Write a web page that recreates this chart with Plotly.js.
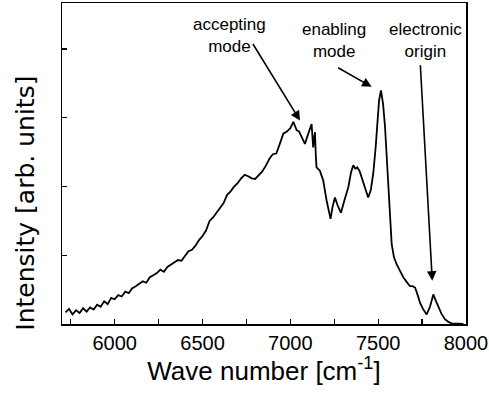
<!DOCTYPE html>
<html>
<head>
<meta charset="utf-8">
<script src="https://cdn.plot.ly/plotly-3.0.1.min.js"></script>
<style>html,body{margin:0;padding:0;background:#fff;}#chart{width:489px;height:395px;}</style>
</head>
<body>
<div id="chart"></div>
<script>
const waveNumber = [5720,5740,5760,5780,5800,5820,5840,5860,5880,5900,5920,5940,5960,5980,6000,6020,6040,6060,6080,6100,6120,6140,6160,6180,6200,6220,6240,6260,6280,6300,6320,6340,6360,6380,6400,6420,6440,6460,6480,6500,6520,6540,6560,6580,6600,6620,6640,6660,6680,6700,6720,6740,6760,6780,6800,6820,6840,6860,6880,6900,6920,6940,6960,6980,7000,7017,7036,7050,7064,7083,7102,7121,7130,7135,7140,7145,7149,7168,7187,7206,7218,7229,7240,7254,7270,7288,7310,7330,7345,7358,7370,7381,7395,7406,7425,7443,7458,7472,7485,7495,7505,7516,7528,7539,7550,7558,7568,7577,7590,7605,7625,7643,7660,7681,7695,7710,7725,7738,7755,7776,7795,7814,7828,7842,7860,7880,7900,7918,7950,7985];
const intensity = [0.17,0.22,0.14,0.20,0.16,0.23,0.18,0.24,0.21,0.28,0.25,0.33,0.29,0.38,0.36,0.42,0.40,0.47,0.45,0.52,0.55,0.58,0.62,0.60,0.68,0.71,0.74,0.79,0.76,0.83,0.86,0.90,0.93,0.92,0.99,1.06,1.08,1.14,1.22,1.28,1.36,1.50,1.55,1.62,1.70,1.76,1.88,1.93,2.00,2.05,2.12,2.17,2.15,2.12,2.11,2.16,2.22,2.30,2.40,2.47,2.48,2.62,2.77,2.80,2.85,2.94,2.82,2.80,2.72,2.62,2.77,2.91,2.57,2.70,2.79,2.45,2.28,2.23,2.09,1.80,1.65,1.53,1.70,1.84,1.72,1.62,1.82,1.99,2.20,2.31,2.26,2.28,2.22,2.14,1.98,1.84,1.95,2.19,2.55,2.92,3.25,3.40,3.20,2.87,2.40,1.99,1.55,1.16,0.97,0.87,0.77,0.68,0.62,0.55,0.55,0.53,0.42,0.31,0.22,0.14,0.25,0.43,0.34,0.26,0.15,0.07,0.03,0.01,0.0,0.0];

const labels = ["accepting<br>mode", "enabling<br>mode", "electronic<br>origin"];
const labelX = [6656, 7249, 7772];
const labelY = [4.19, 4.12, 4.13];
const arrowX = [7055, 7463, 7808];
const arrowY = [2.96, 3.45, 0.63];
const arrowAx = [-48, -35, -12];
const arrowAy = [-78, -20, -217];

const fontFam = '"Liberation Sans", Arial, sans-serif';
const annotations = [];
for (let i = 0; i < labels.length; i++) {
  annotations.push({x: labelX[i], y: labelY[i], xref: 'x', yref: 'y', text: labels[i], showarrow: false,
    font: {family: fontFam, size: 17, color: '#000'}, xanchor: 'center', yanchor: 'middle'});
  annotations.push({x: arrowX[i], y: arrowY[i], xref: 'x', yref: 'y', text: '', showarrow: true,
    ax: arrowAx[i], ay: arrowAy[i], arrowhead: 2, arrowsize: 1.2, arrowwidth: 1.6, arrowcolor: '#000'});
}
annotations.push({x: -0.089, y: 0.375, xref: 'paper', yref: 'paper', text: 'Intensity [arb. units]',
  textangle: -90, showarrow: false, xanchor: 'center', yanchor: 'middle',
  font: {family: '"DejaVu Sans", sans-serif', size: 25, color: '#000'}});

Plotly.newPlot('chart', [{
  x: waveNumber, y: intensity, type: 'scatter', mode: 'lines',
  line: {color: '#000', width: 1.8}
}], {
  width: 489, height: 395,
  margin: {l: 62, r: 23, t: 3, b: 71},
  paper_bgcolor: '#fff', plot_bgcolor: '#fff',
  showlegend: false,
  font: {family: fontFam, color: '#000'},
  xaxis: {
    range: [5700, 8000], dtick: 500, tick0: 6000,
    ticks: 'inside', ticklen: 5, tickwidth: 1.2, tickcolor: '#000',
    minor: {dtick: 250, ticks: 'inside', ticklen: 5, tickwidth: 1.2, tickcolor: '#000'},
    showline: true, linecolor: '#000', linewidth: 1.5, mirror: true,
    showgrid: false, zeroline: false,
    tickfont: {family: fontFam, size: 20, color: '#000'},
    title: {text: 'Wave number [cm<sup>-1</sup>]', font: {family: fontFam, size: 26, color: '#000'}, standoff: 6}
  },
  yaxis: {
    range: [0, 4.67], dtick: 1, tick0: 0,
    ticks: 'inside', ticklen: 5, tickwidth: 1.2, tickcolor: '#000',
    showticklabels: false,
    showline: true, linecolor: '#000', linewidth: 1.5, mirror: true,
    showgrid: false, zeroline: false
  },
  annotations: annotations
}, {displayModeBar: false, staticPlot: true});
</script>
</body>
</html>
